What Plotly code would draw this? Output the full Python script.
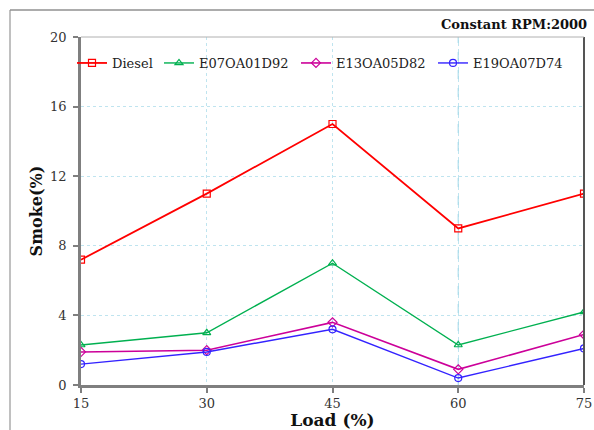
import plotly.graph_objects as go

# Engine load points (%) and smoke opacity (%) for each fuel blend
load = [15, 30, 45, 60, 75]
diesel = [7.2, 11.0, 15.0, 9.0, 11.0]
e07 = [2.3, 3.0, 7.0, 2.3, 4.2]
e13 = [1.9, 2.0, 3.6, 0.9, 2.9]
e19 = [1.2, 1.9, 3.2, 0.4, 2.1]

y_ticks = [0, 4, 8, 12, 16, 20]
x_ticks = [15, 30, 45, 60, 75]

FONT = "DejaVu Serif"

series = [
    ("Diesel", diesel, "#ff0000", "square-open", "legend", 1.8),
    ("E07OA01D92", e07, "#00b050", "triangle-up-open", "legend2", 1.4),
    ("E13OA05D82", e13, "#cc0099", "diamond-open", "legend2", 1.6),
    ("E19OA07D74", e19, "#3322ff", "circle-open", "legend2", 1.4),
]

fig = go.Figure()
for name, vals, color, sym, lg, lw in series:
    fig.add_trace(go.Scatter(
        x=load, y=vals, name=name, mode="lines+markers",
        line=dict(color=color, width=lw),
        marker=dict(symbol=sym, size=7, color=color, line=dict(width=1.2, color=color)),
        legend=lg,
    ))

W, H = 594, 430
L, R, T, B = 81, 10, 37, 45
pw, ph = W - L - R, H - T - B

def px_x(px):
    return (px - L) / pw

def px_y(py):
    return 1 - (py - T) / ph

fig.update_layout(
    width=W, height=H,
    margin=dict(l=L, r=R, t=T, b=B, autoexpand=False),
    paper_bgcolor="white", plot_bgcolor="white",
    font=dict(family=FONT, size=13, color="#222222"),
    showlegend=True,
    legend=dict(
        orientation="h", x=px_x(72), y=px_y(48), xanchor="left", yanchor="top",
        bgcolor="rgba(0,0,0,0)", font=dict(family=FONT, size=13, color="#222"),
    ),
    legend2=dict(
        orientation="h", x=px_x(159), y=px_y(48), xanchor="left", yanchor="top",
        entrywidth=92, entrywidthmode="pixels",
        bgcolor="rgba(0,0,0,0)", font=dict(family=FONT, size=13, color="#222"),
    ),
    xaxis=dict(
        range=[15, 75], tickvals=x_ticks, ticks="outside", ticklen=5,
        tickcolor="#7f7f7f", tickwidth=2,
        showline=True, linecolor="#7f7f7f", linewidth=2.5,
        showgrid=True, gridcolor="#bfe4ef", griddash="dot", gridwidth=1,
        zeroline=False,
        tickfont=dict(family=FONT, size=13, color="#333"),
        title=dict(text="<b>Load (%)</b>", font=dict(family=FONT, size=17, color="#111"), standoff=6),
    ),
    yaxis=dict(
        range=[0, 20], tickvals=y_ticks, ticks="outside", ticklen=5,
        tickcolor="#7f7f7f", tickwidth=2, ticklabelstandoff=4,
        showline=True, linecolor="#7f7f7f", linewidth=2.5,
        showgrid=True, gridcolor="#bfe4ef", griddash="dot", gridwidth=1,
        zeroline=False,
        tickfont=dict(family=FONT, size=13, color="#333"),
        title=dict(text="<b>Smoke(%)</b>", font=dict(family=FONT, size=16, color="#111"), standoff=4),
    ),
    shapes=[
        # darker dashed guide at the 60 % load grid line
        dict(type="line", xref="x", yref="paper", x0=x_ticks[3], x1=x_ticks[3], y0=0, y1=1,
             line=dict(color="#9ad5e6", width=1.1, dash="dash"), layer="below"),
        # right edge of plot area
        dict(type="line", xref="paper", yref="paper", x0=1, x1=1, y0=0, y1=1,
             line=dict(color="#555555", width=2)),
        # top edge of plot area
        dict(type="line", xref="paper", yref="paper", x0=0, x1=1, y0=1, y1=1,
             line=dict(color="#b0b0b0", width=1)),
        # outer chart frame
        dict(type="line", xref="paper", yref="paper", x0=px_x(10), x1=px_x(10),
             y0=px_y(440), y1=px_y(10), line=dict(color="#c0c0c0", width=2)),
        dict(type="line", xref="paper", yref="paper", x0=px_x(10), x1=px_x(600),
             y0=px_y(10), y1=px_y(10), line=dict(color="#909090", width=1.5)),
    ],
    annotations=[
        dict(text="<b>Constant RPM:2000</b>", xref="paper", yref="paper",
             x=px_x(589), y=px_y(24), xanchor="right", yanchor="middle",
             showarrow=False, font=dict(family=FONT, size=13, color="#111")),
    ],
)

fig.write_html("out.html")
